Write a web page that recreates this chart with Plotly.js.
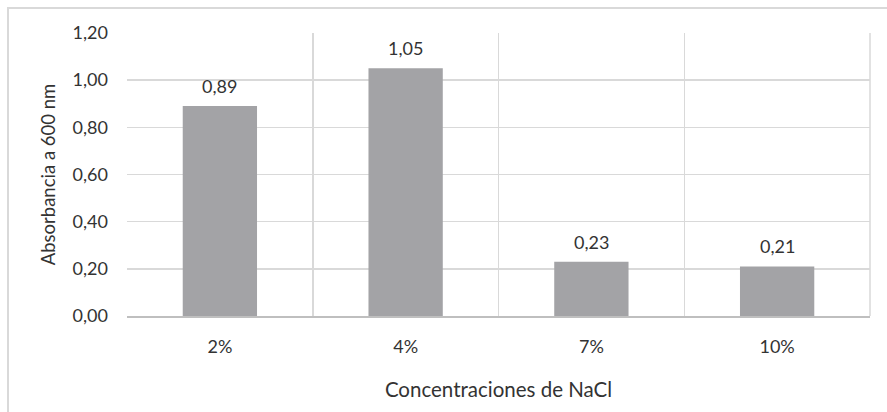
<!DOCTYPE html>
<html><head><meta charset="utf-8">
<script src="https://cdn.plot.ly/plotly-3.0.1.min.js"></script>
<style>
body{margin:0;padding:0;background:#fff;}
#frame{position:absolute;left:7px;top:7px;width:900px;height:420px;border-left:2px solid #d9d9d9;border-top:2px solid #d9d9d9;box-sizing:border-box;}
#chart{position:absolute;left:0;top:0;width:887px;height:412px;}
</style></head>
<body>
<div id="frame"></div>
<div id="chart"></div>
<script>
const categories = ["2%", "4%", "7%", "10%"];
const absorbance = [0.89, 1.05, 0.23, 0.21];
const yTicks = [0, 0.2, 0.4, 0.6, 0.8, 1.0, 1.2];

const txt = '#333333';
const fontFam = 'Lato, "Open Sans", sans-serif';

const labels = categories.map((c, i) => ({
  x: c, y: absorbance[i], xref: 'x', yref: 'y',
  text: absorbance[i].toFixed(2).replace('.', ','),
  showarrow: false, yanchor: 'middle', yshift: 20,
  font: {family: fontFam, size: 18, color: txt}
}));

Plotly.newPlot('chart', [{
  type: 'bar',
  x: categories,
  y: absorbance,
  marker: {color: '#a3a3a6'},
  hoverinfo: 'none'
}], {
  width: 887, height: 412,
  margin: {l: 127, r: 17, t: 33, b: 96},
  paper_bgcolor: 'rgba(0,0,0,0)',
  plot_bgcolor: 'rgba(0,0,0,0)',
  separators: ',.',
  bargap: 0.6,
  showlegend: false,
  font: {family: fontFam, size: 18, color: txt},
  annotations: labels,
  xaxis: {
    type: 'category',
    tickson: 'boundaries',
    showgrid: true, gridcolor: '#d9d9d9', gridwidth: 1.5,
    showline: true, linecolor: '#bfbfbf', linewidth: 1.5,
    ticks: '', ticklabelstandoff: 14,
    tickfont: {family: fontFam, size: 18, color: txt},
    title: {text: 'Concentraciones de NaCl', font: {family: fontFam, size: 20.5, color: txt}, standoff: 26},
    fixedrange: true
  },
  yaxis: {
    range: [0, 1.2],
    tickvals: yTicks,
    tickformat: '.2f',
    showgrid: true, gridcolor: '#d9d9d9', gridwidth: 1.5,
    zeroline: false, showline: false,
    ticks: '', ticklabelstandoff: 18,
    tickfont: {family: fontFam, size: 18, color: txt},
    title: {text: 'Absorbancia a 600 nm', font: {family: fontFam, size: 18.5, color: txt}, standoff: 12},
    fixedrange: true
  },
  shapes: [{
    type: 'line', xref: 'paper', yref: 'paper', x0: 1, x1: 1, y0: 0, y1: 1,
    line: {color: '#d9d9d9', width: 1.5}
  }]
}, {staticPlot: true});
</script>
</body></html>
